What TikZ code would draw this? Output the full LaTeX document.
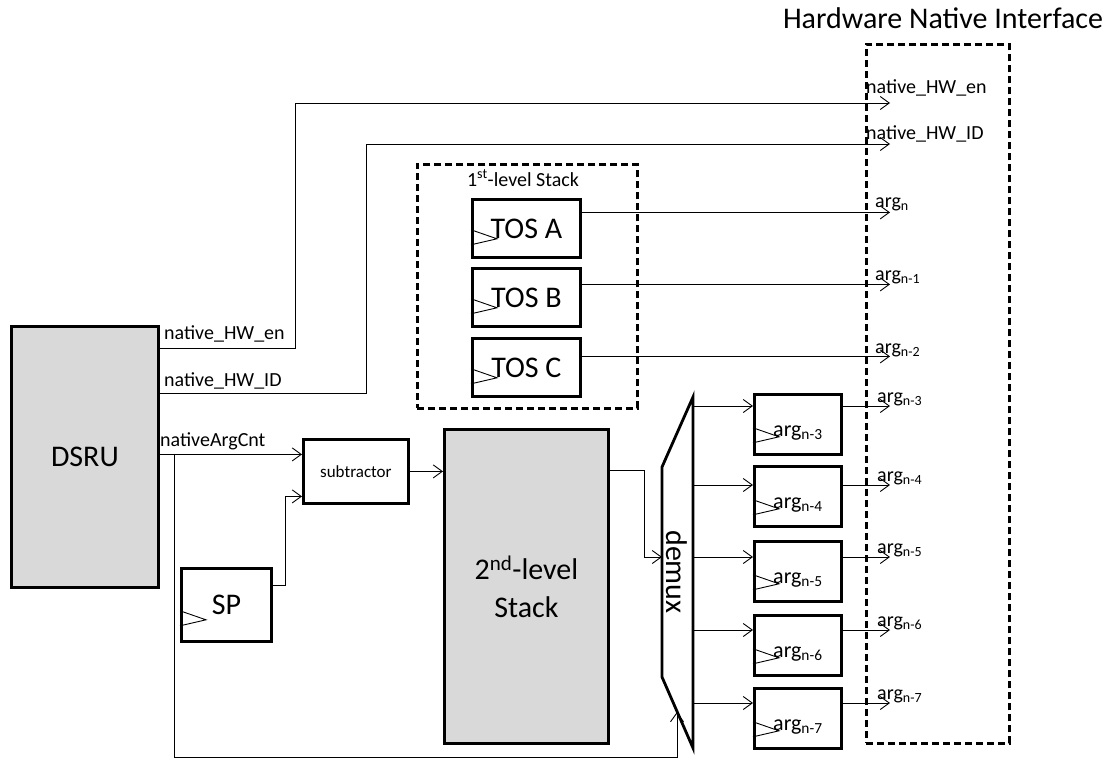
\documentclass[tikz,border=0pt]{standalone}
\usepackage{fontspec}
\setmainfont{Carlito}
\usepackage{tikz}
\usetikzlibrary{arrows.meta, positioning}

% 时钟三角
\newcommand{\clkmark}[2]{\draw[line width=0.9pt, shift={(#1.south west)}] (0,-#2-15) -- (26,-#2-6) -- (0,-#2);}

\begin{document}
\begin{tikzpicture}[x=1pt, y=-1pt,
    >={Straight Barb[length=9pt,width=13pt]},
    sig/.style={->, line width=0.9pt},
    blk/.style={draw, line width=2.8pt, anchor=north west, inner sep=0pt},
    gblk/.style={blk, fill=black!15},
    dbox/.style={draw, line width=2.5pt, dash pattern=on 7pt off 4pt, anchor=north west},
    big/.style={font=\fontsize{30}{38}\selectfont},
    lbl/.style={font=\fontsize{20}{24}\selectfont, inner sep=1pt, anchor=base west},
    tos/.style={blk, big, minimum width=108pt, minimum height=58pt},
    argbox/.style={blk, minimum width=87pt, minimum height=60pt, font=\fontsize{22}{26}\selectfont, text height=26pt, text depth=2pt}]
    \useasboundingbox (0,0) rectangle (1119,758);

    % 主要模块
    \node[gblk, big, minimum width=147pt, minimum height=261pt] (dsru) at (10,325) {DSRU};
    \node[blk, big, minimum width=90pt, minimum height=73pt] (sp) at (180,567) {SP};
    \node[blk, font=\fontsize{17}{20}\selectfont, minimum width=105pt, minimum height=64pt] (sub) at (302,438) {subtractor};
    \node[gblk, big, align=center, minimum width=164pt, minimum height=314pt] (stk2) at (443,428) {2\textsuperscript{nd}-level\\Stack};
    \clkmark{sp}{17}

    % 第一级栈
    \node[dbox, minimum width=220pt, minimum height=244pt] (stk1) at (416,163) {};
    \node[lbl, anchor=base] (stk1t) at (523,186) {1\textsuperscript{st}-level Stack};
    \node[tos] (tosa) at (471,198) {TOS A};
    \node[tos] (tosb) at (471,267) {TOS B};
    \node[tos] (tosc) at (471,337) {TOS C};
    \clkmark{tosa}{14}
    \clkmark{tosb}{14}
    \clkmark{tosc}{14}

    % 硬件接口
    \node[dbox, minimum width=143pt, minimum height=699pt] (hni) at (865,43) {};
    \node[big, anchor=base] (hnit) at (943,28) {Hardware Native Interface};

    % demux
    \draw[line width=2.8pt] (693,397) -- (693,748) -- (662,677) -- (662,467) -- cycle;
    \node[big, rotate=-90] (dmx) at (677,572) {demux};
    \coordinate (dmxin) at (662,557);
    \coordinate (dmxsel) at (677,712);
    \coordinate (d1) at (693,406);
    \coordinate (d2) at (693,485);
    \coordinate (d3) at (693,557);
    \coordinate (d4) at (693,630);
    \coordinate (d5) at (693,703);

    % 参数寄存器
    \node[argbox] (a3) at (753,393) {arg\textsubscript{n-3}};
    \node[argbox] (a4) at (753,465) {arg\textsubscript{n-4}};
    \node[argbox] (a5) at (753,540) {arg\textsubscript{n-5}};
    \node[argbox] (a6) at (753,614) {arg\textsubscript{n-6}};
    \node[argbox] (a7) at (753,687) {arg\textsubscript{n-7}};
    \clkmark{a3}{13}
    \clkmark{a4}{13}
    \clkmark{a5}{13}
    \clkmark{a6}{13}
    \clkmark{a7}{13}

    % DSRU 输出
    \coordinate (tipx) at (890,0);
    \coordinate (hwen) at (890,103);
    \coordinate (hwid) at (890,144);
    \coordinate (nac0) at ([yshift=2.5pt]dsru.east);
    \draw[sig] ([yshift=108pt]dsru.east) -- ++(136,0) |- (hwen);
    \draw[sig] ([yshift=63pt]dsru.east) -- ++(207,0) |- (hwid);
    \draw[sig] (nac0) -- (nac0 -| sub.west);
    \draw[sig] (nac0) ++(15,0) -- ++(0,303) -| (dmxsel);
    \node[lbl] (lenl) at (163,339) {native\_HW\_en};
    \node[lbl] (lidl) at (163,386) {native\_HW\_ID};
    \node[lbl] (lnac) at (159,446) {nativeArgCnt};
    \node[lbl] (lenr) at (865,93) {native\_HW\_en};
    \node[lbl] (lidr) at (865,139) {native\_HW\_ID};

    % SP 与减法器
    \draw[sig] ([yshift=19pt]sp.east) -- ++(13,0) |- ([yshift=-25pt]sub.west);
    \draw[sig] (sub.east) -- (sub.east -| stk2.west);
    \draw[sig] ([yshift=116pt]stk2.east) -- ++(35,0) |- (dmxin);

    % 栈顶输出
    \coordinate (ta) at ([yshift=16pt]tosa.east);
    \coordinate (tb) at ([yshift=13pt]tosb.east);
    \coordinate (tc) at ([yshift=11pt]tosc.east);
    \draw[sig] (ta) -- (ta -| tipx);
    \draw[sig] (tb) -- (tb -| tipx);
    \draw[sig] (tc) -- (tc -| tipx);
    \node[lbl] (o0) at (874,207) {arg\textsubscript{n}};
    \node[lbl] (o1) at (874,280) {arg\textsubscript{n-1}};
    \node[lbl] (o2) at (874,353) {arg\textsubscript{n-2}};

    % demux 输出
    \draw[sig] (d1) -- (d1 -| a3.west);
    \draw[sig] (d2) -- (d2 -| a4.west);
    \draw[sig] (d3) -- (d3 -| a5.west);
    \draw[sig] (d4) -- (d4 -| a6.west);
    \draw[sig] (d5) -- (d5 -| a7.west);
    \draw[sig] (d1 -| a3.east) -- (d1 -| tipx);
    \draw[sig] (d2 -| a4.east) -- (d2 -| tipx);
    \draw[sig] (d3 -| a5.east) -- (d3 -| tipx);
    \draw[sig] (d4 -| a6.east) -- (d4 -| tipx);
    \draw[sig] (d5 -| a7.east) -- (d5 -| tipx);
    \node[lbl] (o3) at (876,402) {arg\textsubscript{n-3}};
    \node[lbl] (o4) at (876,481) {arg\textsubscript{n-4}};
    \node[lbl] (o5) at (876,553) {arg\textsubscript{n-5}};
    \node[lbl] (o6) at (876,626) {arg\textsubscript{n-6}};
    \node[lbl] (o7) at (876,699) {arg\textsubscript{n-7}};
\end{tikzpicture}
\end{document}
